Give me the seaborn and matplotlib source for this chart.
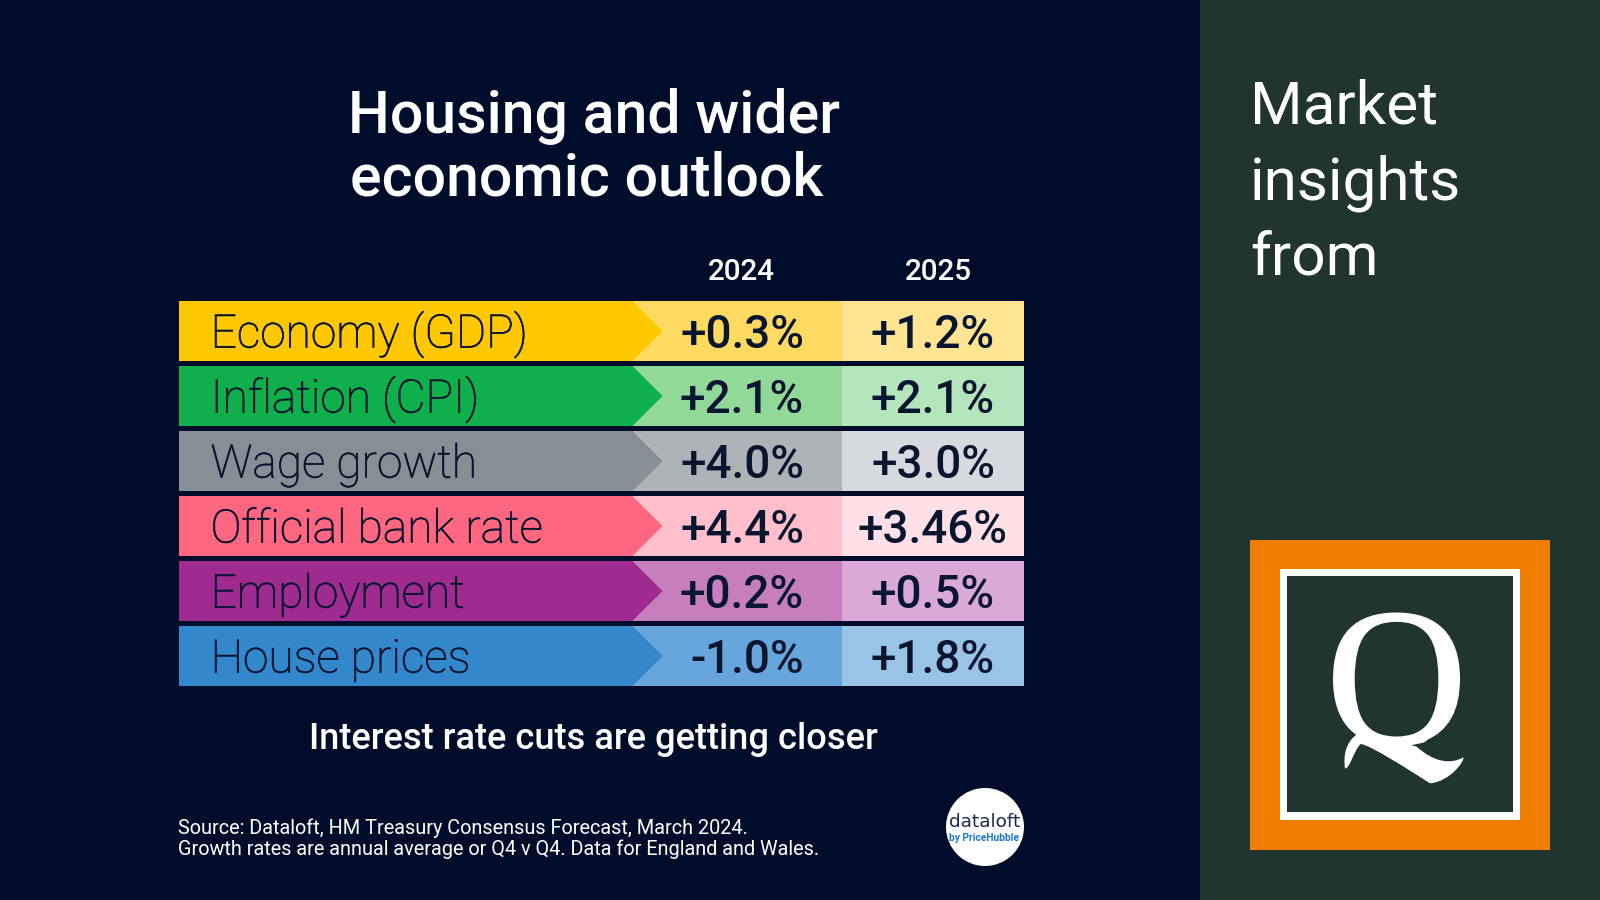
import matplotlib
matplotlib.use("Agg")
import matplotlib.pyplot as plt
import matplotlib.patheffects as pe
import seaborn as sns
import pandas as pd
from matplotlib.patches import Rectangle, Circle, Polygon, PathPatch
from matplotlib.path import Path

TITLE_LINES = ["Housing and wider", "economic outlook"]
YEARS = ["2024", "2025"]
CATEGORIES = ["Economy (GDP)", "Inflation (CPI)", "Wage growth", "Official bank rate", "Employment", "House prices"]
VALUES_2024 = ["+0.3%", "+2.1%", "+4.0%", "+4.4%", "+0.2%", "-1.0%"]
VALUES_2025 = ["+1.2%", "+2.1%", "+3.0%", "+3.46%", "+0.5%", "+1.8%"]
MAIN_COLOURS = ["#FFC800", "#0FB04C", "#878E95", "#FF6680", "#A02B90", "#3388CC"]
MID_COLOURS = ["#FFDA60", "#90D999", "#AEB3B7", "#FFC0CB", "#C67FBC", "#66A6DC"]
LIGHT_COLOURS = ["#FFE591", "#B5E6BB", "#D6DADE", "#FFE0E6", "#DAA9D6", "#99C4E6"]
SIDE_LINES = ["Market", "insights", "from"]
NOTE = "Interest rate cuts are getting closer"
SOURCE_LINES = ["Source: Dataloft, HM Treasury Consensus Forecast, March 2024.",
                "Growth rates are annual average or Q4 v Q4. Data for England and Wales."]

BG = "#000D2A"; PANEL = "#20352E"; ORANGE = "#F07D00"; INK = "#0A1530"
W, H = 1600, 900

sns.set_theme(style="white")
plt.rcParams["font.family"] = ["Roboto", "DejaVu Sans"]

fig = plt.figure(figsize=(16, 9), dpi=100, facecolor=BG)
bg = fig.add_axes([0, 0, 1, 1], zorder=0)
bg.set_xlim(0, W); bg.set_ylim(H, 0); bg.axis("off")
bg.add_patch(Rectangle((1200, 0), 400, 900, color=PANEL, lw=0))
bg.add_patch(Rectangle((1250, 540), 300, 310, color=ORANGE, lw=0))
bg.add_patch(Rectangle((1280, 569), 240, 251, color="white", lw=0))
bg.add_patch(Rectangle((1287, 576), 226, 236, color=PANEL, lw=0))
bg.text(1396.5, 743, "Q", family="Liberation Serif", color="white", fontsize=141, ha="center", va="baseline",
        zorder=3, path_effects=[pe.withStroke(linewidth=1.2, foreground="white")])
def z(px, py):
    return (1230 + px / 3, 520 + py / 3)
# logo letter: trim the font's tail, then draw the logo's sweeping tail
bg.add_patch(Polygon([z(580, 668), z(640, 635), z(730, 650), z(730, 800), z(430, 800), z(430, 700)],
                     closed=True, color=PANEL, lw=0, zorder=3.5))
hook = Path([z(385, 640), z(345, 665), z(340, 710), z(345, 745), z(358, 750), z(372, 690), z(392, 672), z(420, 675),
             z(530, 745), z(600, 790), z(660, 785), z(705, 722), z(700, 712), z(660, 735),
             z(610, 725), z(560, 680), z(505, 665), z(440, 648), z(385, 640)],
            [Path.MOVETO, Path.CURVE4, Path.CURVE4, Path.CURVE4, Path.CURVE4, Path.CURVE4, Path.CURVE4, Path.CURVE4,
             Path.LINETO, Path.CURVE4, Path.CURVE4, Path.CURVE4, Path.LINETO, Path.CURVE4,
             Path.CURVE4, Path.CURVE4, Path.LINETO, Path.LINETO, Path.CLOSEPOLY])
bg.add_patch(PathPatch(hook, facecolor="white", edgecolor="none", zorder=4))

# table
TX0, TX1, TY0, TY1 = 178.6, 1023.6, 298.5, 688.5
ax = fig.add_axes([TX0 / W, 1 - TY1 / H, (TX1 - TX0) / W, (TY1 - TY0) / H], zorder=1)
ax.patch.set_alpha(0)
df = pd.DataFrame({"cat": CATEGORIES})
LEN = {"light": 845, "mid": 663, "main": 454}
for key, pal in [("light", LIGHT_COLOURS), ("mid", MID_COLOURS), ("main", MAIN_COLOURS)]:
    sns.barplot(data=df.assign(x=LEN[key]), y="cat", x="x", hue="cat", palette=pal, legend=False,
                width=0.915, saturation=1, dodge=False, ax=ax, order=CATEGORIES, hue_order=CATEGORIES,
                linewidth=0, edgecolor="none")
for i, c in enumerate(MAIN_COLOURS):
    ax.add_patch(Polygon([(LEN["main"] - 1, i - 0.4575), (LEN["main"], i - 0.4575), (LEN["main"] + 30, i), (LEN["main"], i + 0.4575), (LEN["main"] - 1, i + 0.4575)],
                         closed=True, color=c, lw=0, zorder=5))
ax.set_xlim(0, TX1 - TX0); ax.set_ylim(5.5, -0.5)
ax.axis("off")
for i, c in enumerate(CATEGORIES):
    ax.annotate(c, (32, i), xytext=(0, -16.5), textcoords="offset pixels", fontsize=33.2, fontweight="light",
                color=INK, ha="left", va="baseline", zorder=6,
                path_effects=[pe.withStroke(linewidth=0.5, foreground=INK)])
    ax.annotate(VALUES_2024[i], (625.5, i), xytext=(0, -17), textcoords="offset pixels", fontsize=33, fontweight="medium",
                color=INK, ha="right", va="baseline", zorder=6)
    xr = 829 if VALUES_2025[i] == "+3.46%" else 816.5
    ax.annotate(VALUES_2025[i], (xr, i), xytext=(0, -17), textcoords="offset pixels", fontsize=33, fontweight="medium",
                color=INK, ha="right", va="baseline", zorder=6)

# text
fg = fig.add_axes([0, 0, 1, 1], zorder=2)
fg.set_xlim(0, W); fg.set_ylim(H, 0); fg.axis("off"); fg.patch.set_alpha(0)
fg.text(594, 133, TITLE_LINES[0], color="white", fontsize=42.5, fontweight="medium", ha="center", va="baseline")
fg.text(587, 196, TITLE_LINES[1], color="white", fontsize=42.5, fontweight="medium", ha="center", va="baseline")
fg.text(741.5, 280.5, YEARS[0], color="white", fontsize=21.3, fontweight="medium", ha="center", va="baseline")
fg.text(938.5, 280.5, YEARS[1], color="white", fontsize=21.3, fontweight="medium", ha="center", va="baseline")
fg.text(593, 749, NOTE, color="white", fontsize=26.1, fontweight="medium", ha="center", va="baseline")
fg.text(178, 834, SOURCE_LINES[0], color="white", fontsize=14.27, ha="left", va="baseline")
fg.text(178, 855, SOURCE_LINES[1], color="white", fontsize=14.27, ha="left", va="baseline")
for t, y in zip(SIDE_LINES, [123.5, 199, 274.5]):
    fg.text(1250, y, t, color="white", fontsize=43.4, ha="left", va="baseline")

# dataloft badge
fg.add_patch(Circle((985, 827), 39, color="white", lw=0))
fg.text(984.5, 827, "dataloft", family="DejaVu Sans", color="#1B2A4A", fontsize=13.3, ha="center", va="baseline")
fg.text(984.5, 841, "by PriceHubble", color="#1F78C8", fontsize=7.4, fontweight="bold", ha="center", va="baseline")

fig.savefig("out.png", dpi=100, facecolor=BG)
